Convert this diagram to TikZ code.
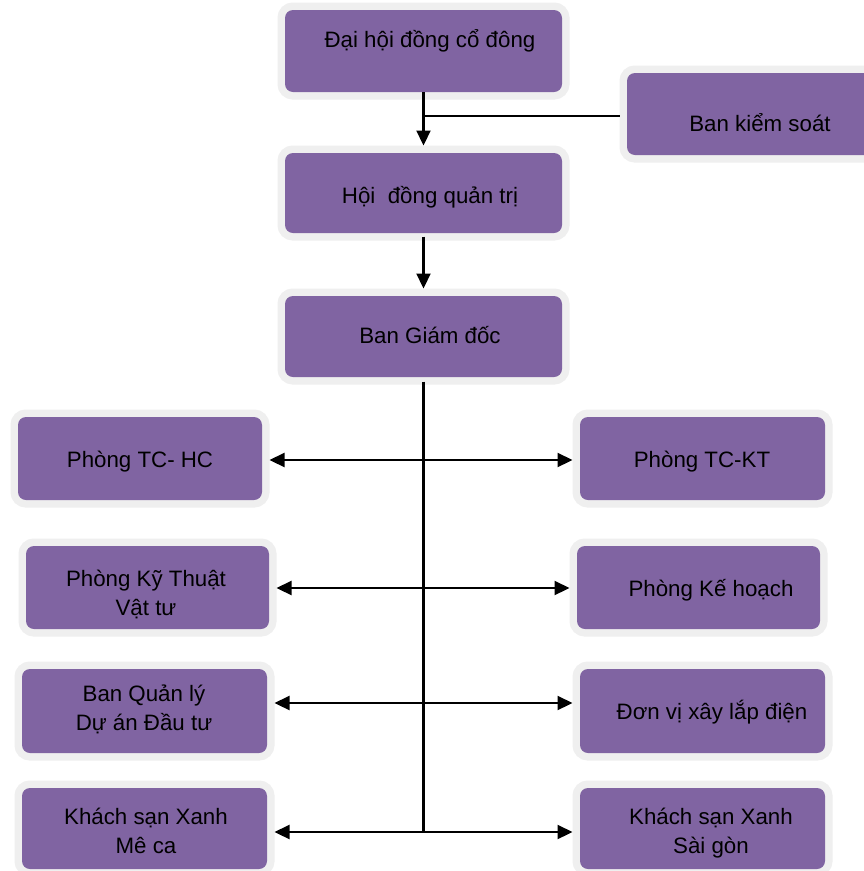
\documentclass[tikz,border=0pt]{standalone}
\usepackage{fontspec}
\setmainfont{Liberation Sans}
\usetikzlibrary{arrows.meta}
\definecolor{boxpurple}{HTML}{8064A2}
\definecolor{glowc}{HTML}{EFEFEF}
\tikzset{
  orgbox/.style={rectangle, rounded corners=8pt, fill=boxpurple, inner sep=0pt, outer sep=7.5pt,
    preaction={draw=glowc, line width=15pt}},
  lbl/.style={inner sep=0pt, align=center, font=\fontsize{22.3}{29}\selectfont, text=black},
  conn/.style={line width=2.2pt, draw=black},
  tipa/.tip={Triangle[length=15pt,width=14pt]},
  arr/.style={conn, -tipa},
  darr/.style={conn, tipa-tipa}
}
\begin{document}
\begin{tikzpicture}[x=1pt,y=-1pt]
\useasboundingbox (0,0) rectangle (864,871);
\fill[white] (0,0) rectangle (864,871);
% boxes
\node[orgbox, minimum width=277pt, minimum height=82pt] (B1) at (423.5,51) {};
\node[orgbox, minimum width=277pt, minimum height=80pt] (B2) at (423.5,193) {};
\node[orgbox, minimum width=277pt, minimum height=81pt] (B3) at (423.5,336.5) {};
\node[orgbox, minimum width=253pt, minimum height=82pt] (BKS) at (753.5,114) {};
\node[orgbox, minimum width=244pt, minimum height=83pt] (L1) at (140,458.5) {};
\node[orgbox, minimum width=245pt, minimum height=83pt] (R1) at (702.5,458.5) {};
\node[orgbox, minimum width=243pt, minimum height=83pt] (L2) at (147.5,587.5) {};
\node[orgbox, minimum width=243pt, minimum height=83pt] (R2) at (698.5,587.5) {};
\node[orgbox, minimum width=245pt, minimum height=84pt] (L3) at (144.5,711) {};
\node[orgbox, minimum width=245pt, minimum height=84pt] (R3) at (702.5,711) {};
\node[orgbox, minimum width=245pt, minimum height=81pt] (L4) at (144.5,828.5) {};
\node[orgbox, minimum width=245pt, minimum height=81pt] (R4) at (702.5,828.5) {};
% labels
\node[lbl] (t1) at (430,41) {Đại hội đồng cổ đông};
\node[lbl] (t2) at (430,197) {Hội\ \ đồng quản trị};
\node[lbl] (t3) at (430,335) {Ban Giám đốc};
\node[lbl] (tbks) at (760,123) {Ban kiểm soát};
\node[lbl] (tl1) at (140,462) {Phòng TC- HC};
\node[lbl] (tr1) at (702,462) {Phòng TC-KT};
\node[lbl] (tl2) at (146,594) {Phòng Kỹ Thuật\\Vật tư};
\node[lbl] (tr2) at (711,590) {Phòng Kế hoạch};
\node[lbl] (tl3) at (144,709) {Ban Quản lý\\Dự án Đầu tư};
\node[lbl] (tr3) at (712,712) {Đơn vị xây lắp điện};
\node[lbl] (tl4) at (146,831) {Khách sạn Xanh\\Mê ca};
\node[lbl] (tr4) at (711,833) {Khách sạn Xanh\\Sài gòn};
% junctions
\coordinate (j0) at (423.5,116);
\coordinate (r1) at (423.5,460);
\coordinate (r2) at (423.5,588);
\coordinate (r3) at (423.5,703);
\coordinate (r4) at (423.5,832);
% connectors
\draw[arr, shorten <=-7.5pt] (B1.south) -- (B2.north);
\draw[conn] (j0) -- (BKS.west |- j0);
\draw[arr, shorten <=-4pt] (B2.south) -- (B3.north);
\draw[conn, shorten <=-3pt] (B3.south) -- (r4);
\draw[darr] (L1.east |- r1) -- (R1.west |- r1);
\draw[darr] (L2.east |- r2) -- (R2.west |- r2);
\draw[darr] (L3.east |- r3) -- (R3.west |- r3);
\draw[darr] (L4.east |- r4) -- (R4.west |- r4);
\end{tikzpicture}
\end{document}
